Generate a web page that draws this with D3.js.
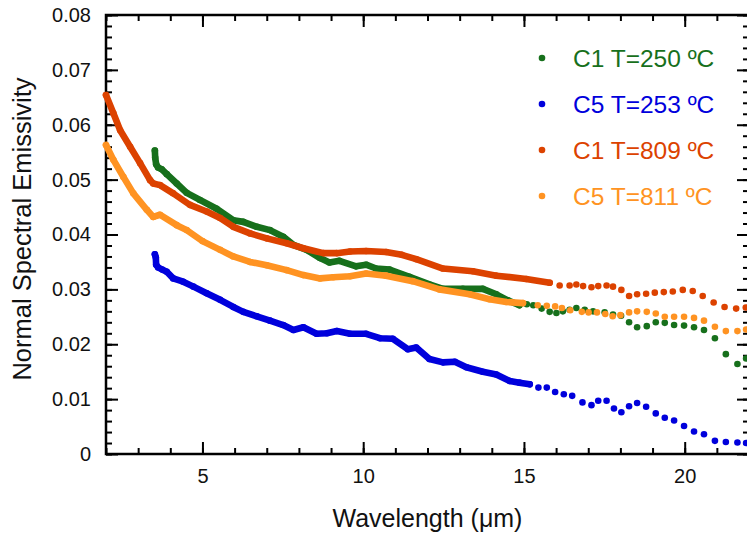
<!DOCTYPE html>
<html>
<head>
<meta charset="utf-8">
<script src="https://cdn.jsdelivr.net/npm/d3@7/dist/d3.min.js"></script>
<style>
    body { margin: 0; background: #fff; }
    svg { font-family: "Liberation Sans", Arial, sans-serif; }
</style>
</head>
<body>
<svg width="747" height="535"></svg>
<script>
// legend labels
var labels = ["C1 T=250 ºC", "C5 T=253 ºC", "C1 T=809 ºC", "C5 T=811 ºC"];

// C1 T=250 (wavelength in um, emissivity)
var c1LowWl = [3.52,3.53,3.56,3.62,3.73,3.89,4.20,4.51,4.92,5.44,5.96,6.27,6.69,7.10,7.51,7.83,8.24,8.66,8.95,9.26,
    9.78,10.09,10.40,10.82,11.44,12.06,12.48,13.10,13.72,14.14,14.50,14.86,15.09,15.29,15.55,15.80,16.01,16.21,16.42,16.63,
    16.89,17.15,17.51,17.77,18.02,18.27,18.52,18.82,19.10,19.38,19.67,19.98,20.29,20.60,20.94,21.28,21.64,21.91];
var c1LowEm = [0.0553,0.0540,0.0528,0.0522,0.0519,0.0510,0.0493,0.0476,0.0463,0.0447,0.0426,0.0423,0.0414,0.0408,0.0396,0.0381,0.0372,0.0357,0.0349,0.0352,
    0.0342,0.0345,0.0338,0.0336,0.0323,0.0309,0.0301,0.0301,0.0301,0.0291,0.0280,0.0271,0.0273,0.0271,0.0265,0.0259,0.0257,0.0260,0.0263,0.0266,
    0.0263,0.0260,0.0258,0.0254,0.0252,0.0240,0.0231,0.0233,0.0240,0.0239,0.0235,0.0234,0.0231,0.0226,0.0211,0.0182,0.0164,0.0174];

// C5 T=253
var c5LowWl = [3.52,3.55,3.56,3.62,3.75,3.89,4.09,4.40,4.72,5.13,5.55,5.96,6.27,6.69,7.10,7.51,7.83,8.14,8.55,8.87,
    9.18,9.59,10.09,10.52,10.92,11.39,11.65,12.06,12.48,12.85,13.21,13.72,14.14,14.56,14.86,15.18,15.45,15.71,15.97,16.24,
    16.50,16.82,17.10,17.31,17.57,17.80,18.03,18.27,18.52,18.80,19.10,19.38,19.67,19.98,20.29,20.60,20.94,21.28,21.64,21.91];
var c5LowEm = [0.0364,0.0358,0.0345,0.0340,0.0336,0.0332,0.0320,0.0314,0.0305,0.0293,0.0281,0.0268,0.0259,0.0251,0.0243,0.0235,0.0226,0.0231,0.0219,0.0220,
    0.0224,0.0219,0.0219,0.0211,0.0210,0.0191,0.0194,0.0173,0.0167,0.0168,0.0158,0.0150,0.0145,0.0133,0.0130,0.0127,0.0121,0.0121,0.0113,0.0109,
    0.0106,0.0094,0.0089,0.0097,0.0097,0.0083,0.0076,0.0087,0.0093,0.0086,0.0074,0.0066,0.0061,0.0051,0.0041,0.0036,0.0024,0.0022,0.0021,0.0020];

// C1 T=809
var c1HighWl = [2.00,2.23,2.44,2.75,3.06,3.37,3.47,3.68,4.09,4.61,5.13,5.55,5.96,6.48,7.00,7.62,8.14,8.76,9.18,9.59,
    10.09,10.71,11.20,11.65,12.48,13.41,14.14,15.07,15.80,16.11,16.42,16.63,16.84,17.10,17.31,17.57,17.77,18.03,18.27,18.52,
    18.80,19.07,19.35,19.63,19.94,20.25,20.56,20.90,21.24,21.60,21.90];
var c1HighEm = [0.0654,0.0621,0.0590,0.0560,0.0530,0.0499,0.0493,0.0490,0.0475,0.0454,0.0442,0.0430,0.0414,0.0402,0.0393,0.0384,0.0375,0.0366,0.0366,0.0369,
    0.0370,0.0368,0.0363,0.0355,0.0338,0.0333,0.0325,0.0319,0.0312,0.0307,0.0307,0.0309,0.0306,0.0304,0.0306,0.0307,0.0305,0.0299,0.0288,0.0291,
    0.0292,0.0294,0.0295,0.0296,0.0299,0.0297,0.0288,0.0276,0.0268,0.0265,0.0267];

// C5 T=811
var c5HighWl = [2.00,2.23,2.54,2.85,3.27,3.47,3.68,4.20,4.51,5.00,5.55,5.96,6.48,7.00,7.62,8.14,8.66,9.07,9.59,10.09,
    10.71,11.54,12.37,13.31,13.93,14.45,14.97,15.43,15.71,15.97,16.18,16.44,16.80,17.01,17.27,17.53,17.76,18.00,18.27,18.52,
    18.82,19.10,19.38,19.67,19.98,20.29,20.60,20.94,21.28,21.64,21.91];
var c5HighEm = [0.0563,0.0536,0.0505,0.0475,0.0445,0.0432,0.0436,0.0417,0.0408,0.0388,0.0372,0.0360,0.0350,0.0344,0.0335,0.0326,0.0320,0.0322,0.0324,0.0329,
    0.0325,0.0315,0.0300,0.0291,0.0282,0.0277,0.0275,0.0271,0.0270,0.0269,0.0266,0.0262,0.0259,0.0258,0.0258,0.0255,0.0251,0.0253,0.0258,0.0260,
    0.0259,0.0256,0.0250,0.0250,0.0250,0.0248,0.0243,0.0232,0.0224,0.0224,0.0227];

// wavelength where the dense (continuous looking) part of each trace stops
var traceEnd = [14.86, 15.18, 15.80, 14.97];

var xTicks = [5, 10, 15, 20];
var yTicks = [0, 0.01, 0.02, 0.03, 0.04, 0.05, 0.06, 0.07, 0.08];

var colors = ["#17701c", "#0000dc", "#dc4200", "#ff9322"];

//build series objects from the arrays
var wls = [c1LowWl, c5LowWl, c1HighWl, c5HighWl];
var ems = [c1LowEm, c5LowEm, c1HighEm, c5HighEm];
var series = labels.map(function(name, i) {
    return {
        name: name,
        color: colors[i],
        end: traceEnd[i],
        points: wls[i].map(function(w, j) { return { w: w, e: ems[i][j] }; })
    };
});

var svg = d3.select("svg"),
    plotLeft = 106, plotRight = 749, plotTop = 15, plotBottom = 454;

var x = d3.scaleLinear().domain([2, 22]).range([plotLeft, plotRight]);
var y = d3.scaleLinear().domain([0, 0.08]).range([plotBottom, plotTop]);

var minorX = d3.range(2, 23, 1);
var minorY = d3.range(0, 0.0801, 0.002);

function styleAxis(g) {
    g.attr("font-size", 20).attr("font-family", "Liberation Sans, Arial, sans-serif");
    g.select(".domain").remove();
    g.selectAll(".tick line").attr("stroke", "#000").attr("stroke-width", 2);
    g.selectAll(".tick text").attr("fill", "#111");
}

// minor ticks on all four sides
svg.append("g").attr("transform", "translate(0," + plotBottom + ")")
    .call(d3.axisBottom(x).tickValues(minorX).tickSize(-6).tickFormat("")).call(styleAxis);
svg.append("g").attr("transform", "translate(0," + plotTop + ")")
    .call(d3.axisTop(x).tickValues(minorX).tickSize(-6).tickFormat("")).call(styleAxis);
svg.append("g").attr("transform", "translate(" + plotLeft + ",0)")
    .call(d3.axisLeft(y).tickValues(minorY).tickSize(-6).tickFormat("")).call(styleAxis);
svg.append("g").attr("transform", "translate(" + plotRight + ",0)")
    .call(d3.axisRight(y).tickValues(minorY).tickSize(-6).tickFormat("")).call(styleAxis);

// major ticks
svg.append("g").attr("transform", "translate(0," + plotBottom + ")")
    .call(d3.axisBottom(x).tickValues(xTicks).tickSize(-12).tickPadding(15)).call(styleAxis);
svg.append("g").attr("transform", "translate(0," + plotTop + ")")
    .call(d3.axisTop(x).tickValues(xTicks).tickSize(-12).tickFormat("")).call(styleAxis);
svg.append("g").attr("transform", "translate(" + plotLeft + ",0)")
    .call(d3.axisLeft(y).tickValues(yTicks).tickSize(-12).tickPadding(15)
        .tickFormat(function(d) { return d === 0 ? "0" : d3.format(".2f")(d); }))
    .call(styleAxis);
svg.append("g").attr("transform", "translate(" + plotRight + ",0)")
    .call(d3.axisRight(y).tickValues(yTicks).tickSize(-12).tickFormat("")).call(styleAxis);

// frame
svg.append("rect")
    .attr("x", plotLeft).attr("y", plotTop)
    .attr("width", plotRight - plotLeft).attr("height", plotBottom - plotTop)
    .attr("fill", "none").attr("stroke", "#000").attr("stroke-width", 2.5);

// data
var line = d3.line()
    .x(function(d) { return x(d.w); })
    .y(function(d) { return y(d.e); });

var plot = svg.append("g");

series.forEach(function(s) {
    plot.append("path")
        .datum(s.points.filter(function(d) { return d.w <= s.end; }))
        .attr("fill", "none")
        .attr("stroke", s.color)
        .attr("stroke-width", 6.6)
        .attr("stroke-linejoin", "round")
        .attr("stroke-linecap", "round")
        .attr("d", line);

    plot.selectAll(null)
        .data(s.points)
        .enter().append("circle")
        .attr("cx", function(d) { return x(d.w); })
        .attr("cy", function(d) { return y(d.e); })
        .attr("r", 3.3)
        .attr("fill", s.color);
});

// axis titles
svg.append("text")
    .attr("x", (plotLeft + plotRight) / 2)
    .attr("y", 527)
    .attr("text-anchor", "middle")
    .attr("font-size", "25px")
    .attr("fill", "#111")
    .text("Wavelength (μm)");

svg.append("text")
    .attr("transform", "translate(22,229) rotate(-90)")
    .attr("text-anchor", "middle")
    .attr("dominant-baseline", "central")
    .attr("font-size", "25.5px")
    .attr("fill", "#111")
    .text("Normal Spectral Emissivity");

// legend
var legend = svg.append("g");
series.forEach(function(s, i) {
    var ly = 58 + i * 46;
    legend.append("circle")
        .attr("cx", 542).attr("cy", ly).attr("r", 3.3)
        .attr("fill", s.color);
    legend.append("text")
        .attr("x", 573).attr("y", ly)
        .attr("dominant-baseline", "central")
        .attr("font-size", "24.5px")
        .attr("fill", s.color)
        .text(s.name);
});
</script>
</body>
</html>
